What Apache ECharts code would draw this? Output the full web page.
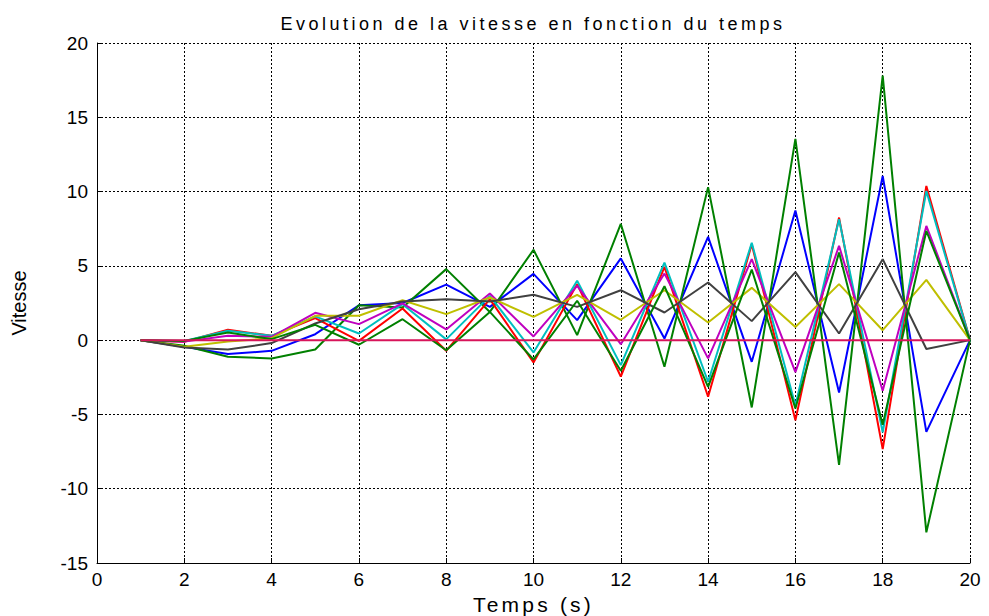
<!DOCTYPE html>
<html>
<head>
<meta charset="utf-8">
<script src="https://cdn.jsdelivr.net/npm/echarts@6/dist/echarts.min.js"></script>
<style>
html,body{margin:0;padding:0;background:#fff;}
#chart{width:989px;height:616px;}
/* wide, loosely spaced lettering as in the original figure */
#chart svg text[style*="18px"]{letter-spacing:3.5px;}
#chart svg text[style*="21px"]{letter-spacing:3.2px;}
</style>
</head>
<body>
<div id="chart"></div>
<script>
// Time steps (s)
const times = [1,2,3,4,5,6,7,8,9,10,11,12,13,14,15,16,17,18,19,20];
const xTicks = [0,2,4,6,8,10,12,14,16,18,20];
const yTicks = [-15,-10,-5,0,5,10,15,20];

// Series values
const vBlue    = [0,-0.45,-0.94,-0.72,0.4,2.35,2.5,3.74,2.24,4.46,1.35,5.5,0.11,6.95,-1.46,8.72,-3.52,11.05,-6.17,0];
const vGreen   = [0,-0.38,-1.12,-1.23,-0.63,2.35,2.2,4.78,1.9,6.08,0.34,7.82,-1.79,10.3,-4.53,13.55,-8.39,17.8,-12.94,0];
const vRed     = [0,-0.11,0.7,0.29,1.48,-0.05,2.13,-0.72,2.76,-1.5,3.77,-2.45,4.93,-3.81,6.45,-5.4,8.25,-7.33,10.38,0];
const vCyan    = [0,-0.05,0.63,0.29,1.6,0.45,2.42,0.05,2.98,-0.83,4.0,-1.68,5.22,-2.8,6.55,-4.4,8.14,-6.2,10.04,0];
const vMagenta = [0,-0.1,0.29,0.22,1.84,1.08,2.47,0.72,3.14,0.25,3.65,-0.27,4.48,-1.23,5.45,-2.15,6.35,-3.41,7.69,0];
const vYellow  = [0,-0.45,-0.09,0.13,1.64,1.64,2.69,1.75,2.87,1.57,3.05,1.37,3.36,1.19,3.52,0.88,3.77,0.67,4.06,0];
const vGray    = [0,-0.5,-0.63,-0.2,1.12,2.08,2.6,2.76,2.6,3.05,2.24,3.36,1.86,3.88,1.28,4.58,0.45,5.45,-0.6,0];
const vGreen2  = [0,-0.05,0.52,0.07,1.03,-0.31,1.41,-0.68,1.9,-1.3,2.65,-2.06,3.63,-3.14,4.75,-4.6,5.9,-5.7,7.35,0];
const vZero    = [0,0,0,0,0,0,0,0,0,0,0,0,0,0,0,0,0,0,0,0];

const seriesValues = [vBlue, vGreen, vRed, vCyan, vMagenta, vYellow, vGray, vGreen2, vZero];
const seriesColors = ['#0000ff','#008000','#ff0000','#00bfbf','#bf00bf','#bfbf00','#404040','#008000','#d8145a'];

const FONT = 'Liberation Sans, Arial, Helvetica, sans-serif';

const chart = echarts.init(document.getElementById('chart'), null, {renderer:'svg'});
chart.setOption({
  animation: false,
  backgroundColor: '#ffffff',
  title: {
    text: 'Evolution de la vitesse en fonction du temps',
    left: 528, top: 10, textAlign: 'center',
    textStyle: {fontFamily: FONT, fontSize: 18, fontWeight: 'normal', color: '#000'}
  },
  grid: {left: 97, right: 19, top: 43, bottom: 53, outerBoundsMode: 'none', containLabel: false},
  xAxis: {
    type: 'value', min: xTicks[0], max: xTicks[xTicks.length-1], interval: 2,
    name: 'Temps (s)', nameLocation: 'middle', nameGap: 31,
    nameTextStyle: {fontFamily: FONT, fontSize: 21, color: '#000'},
    axisLine: {show: true, onZero: false, lineStyle: {color: '#000', width: 1}},
    axisTick: {show: true, inside: true, length: 5, lineStyle: {color: '#000'}},
    axisLabel: {fontFamily: FONT, fontSize: 19, color: '#000', margin: 7},
    splitLine: {show: true, lineStyle: {color: '#000', type: [2,2], width: 1}}
  },
  yAxis: {
    type: 'value', min: yTicks[0], max: yTicks[yTicks.length-1], interval: 5,
    name: 'Vitesse', nameLocation: 'middle', nameGap: 68,
    nameTextStyle: {fontFamily: FONT, fontSize: 20, color: '#000'},
    axisLine: {show: true, onZero: false, lineStyle: {color: '#000', width: 1}},
    axisTick: {show: true, inside: true, length: 5, lineStyle: {color: '#000'}},
    axisLabel: {fontFamily: FONT, fontSize: 19, color: '#000', margin: 9},
    splitLine: {show: true, lineStyle: {color: '#000', type: [2,2], width: 1}}
  },
  series: seriesValues.map((vals, i) => ({
    type: 'line',
    data: times.map((t, k) => [t, vals[k]]),
    showSymbol: false,
    symbol: 'none',
    lineStyle: {color: seriesColors[i], width: 2},
    itemStyle: {color: seriesColors[i]},
    z: 2 + i
  }))
});
</script>
</body>
</html>
